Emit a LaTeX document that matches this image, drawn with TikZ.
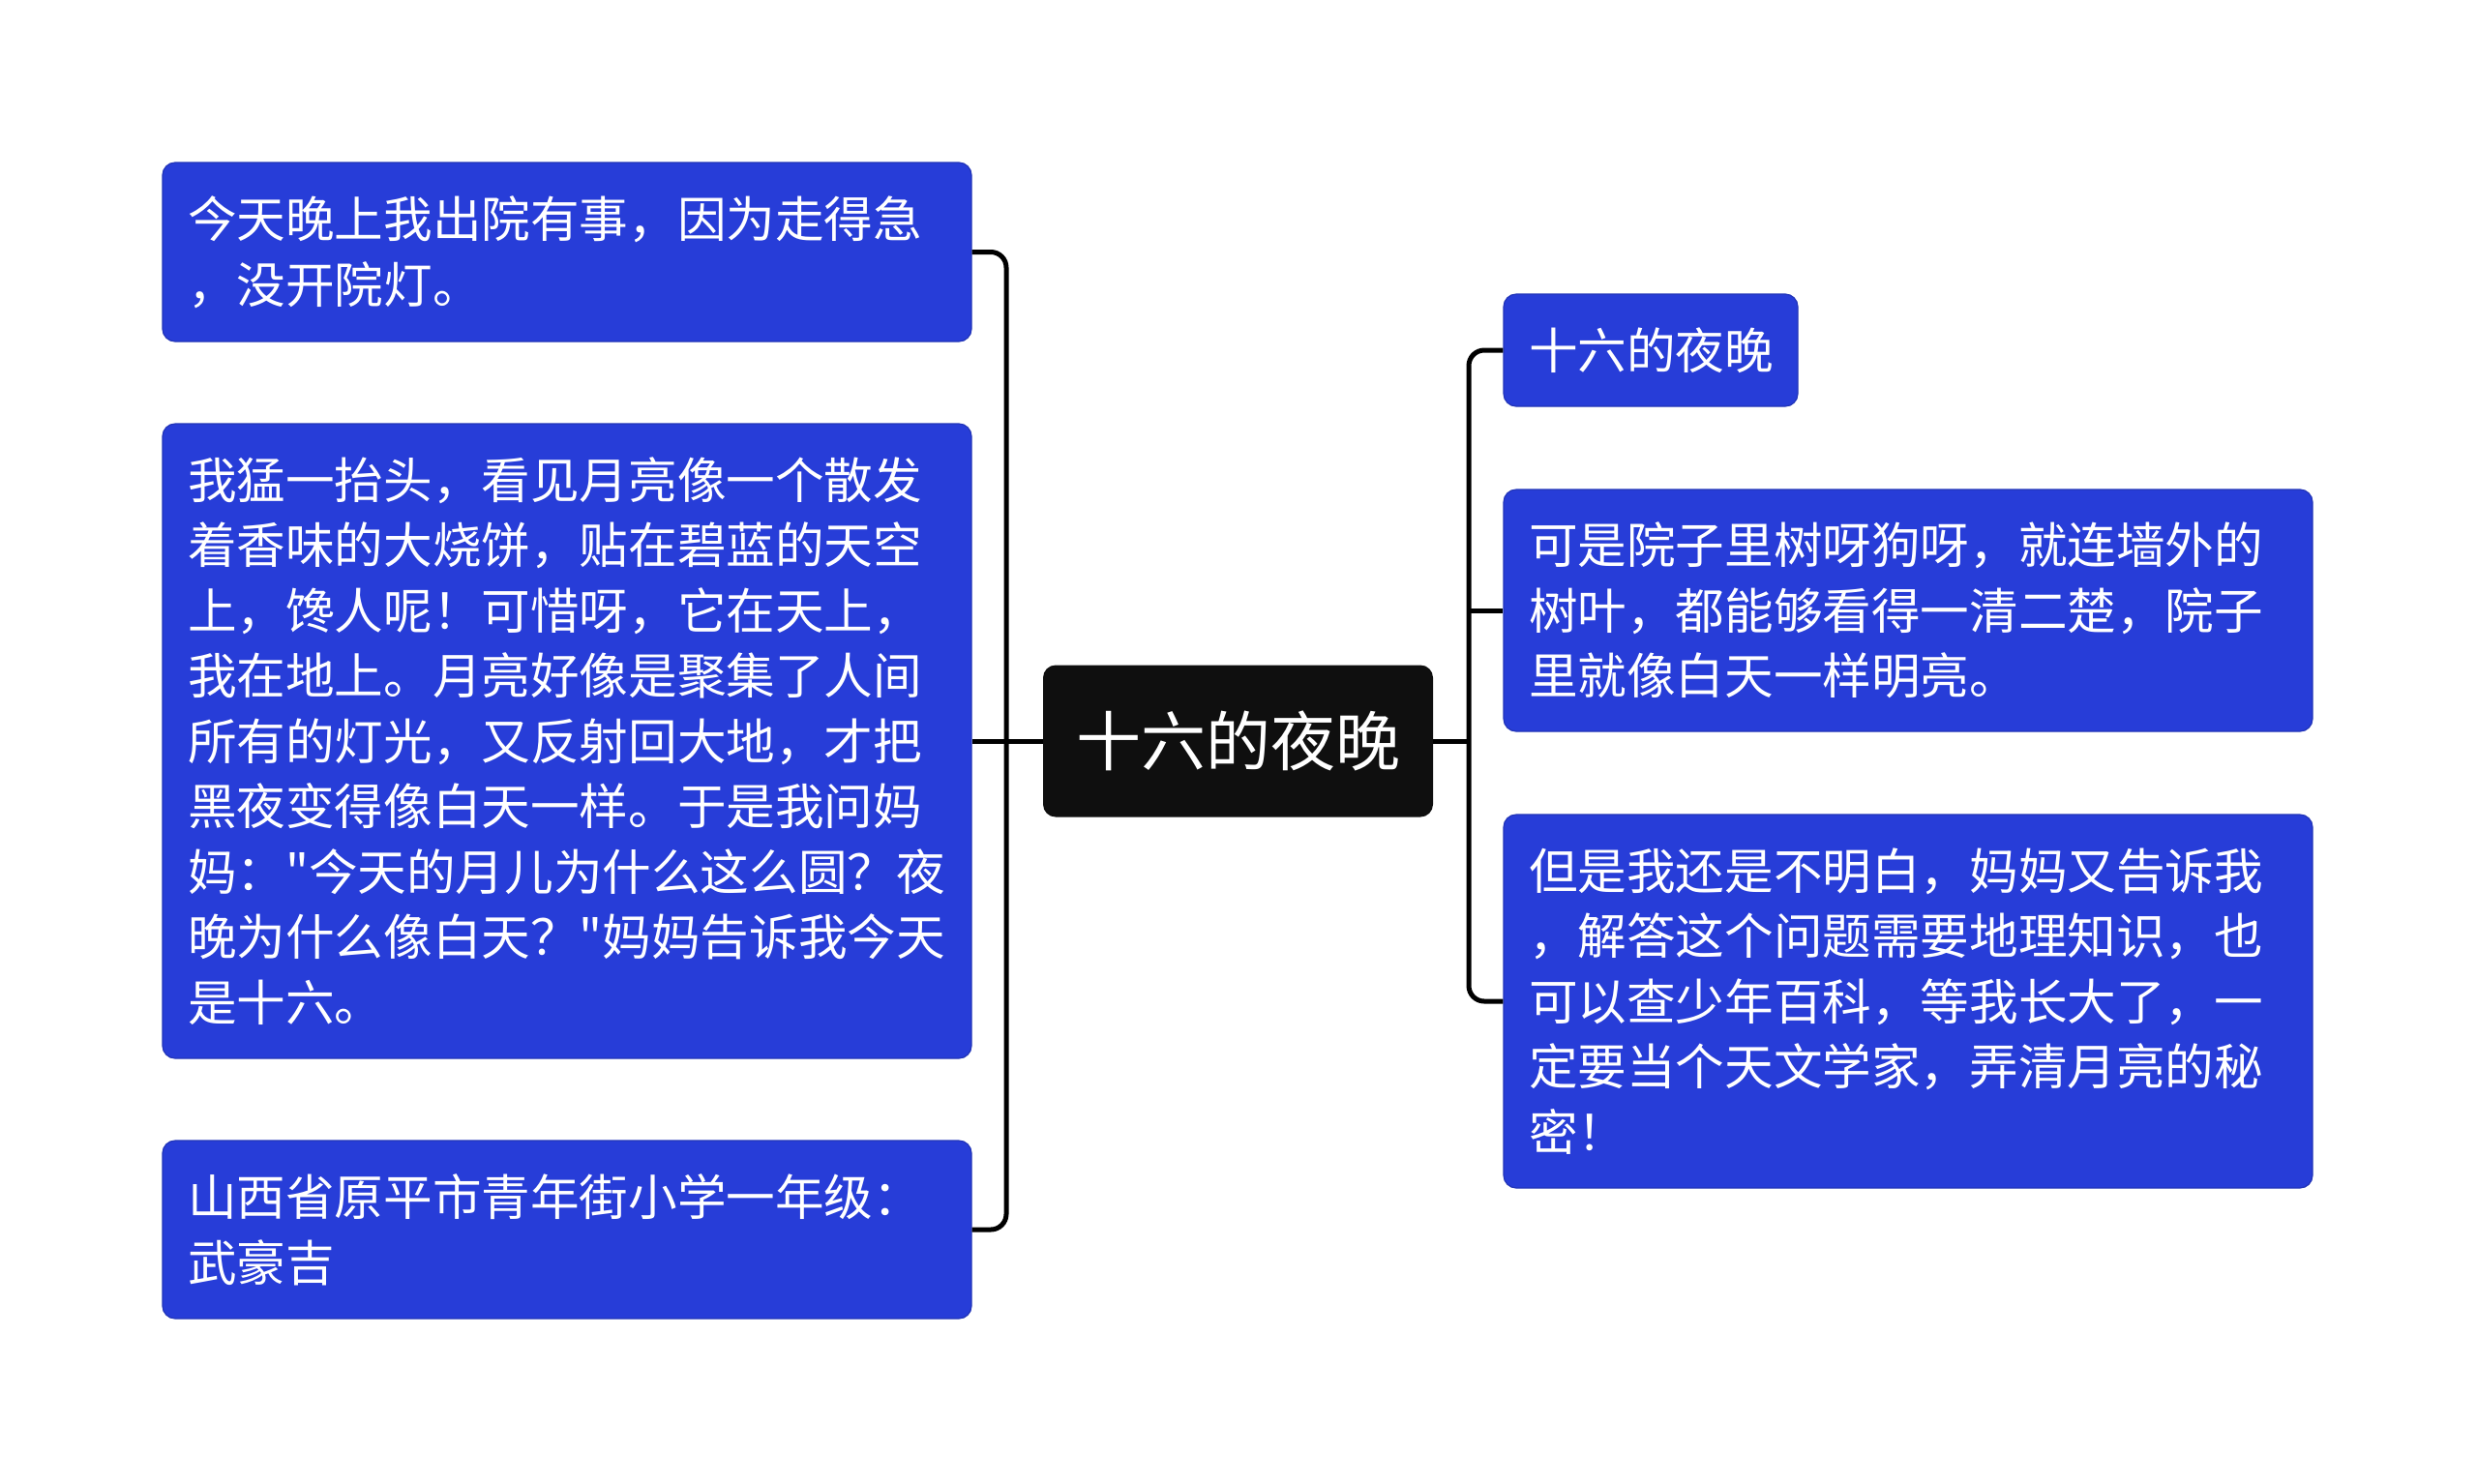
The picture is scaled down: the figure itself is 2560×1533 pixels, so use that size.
\documentclass[tikz,border=0pt]{standalone}
\usepackage{fontspec}
\newfontfamily\cjkfont{Noto Sans CJK SC}
\definecolor{leafblue}{RGB}{39,61,216}
\definecolor{topicblack}{RGB}{15,15,15}

\begin{document}
\begin{tikzpicture}[x = 0.5pt, y = -0.5pt,
	leaf/.style = {draw = leafblue!85!black, line width = 0.6pt, fill = leafblue, rounded corners = 6.5pt, text = white, align = left, inner xsep = 13pt, inner ysep = 0pt, font = \cjkfont\fontsize{25.3pt}{33.75pt}\selectfont},
	topic/.style = {fill = topicblack, rounded corners = 6.5pt, text = white, align = center, minimum width = 201.5pt, minimum height = 78.5pt, font = \cjkfont\fontsize{33.5pt}{40pt}\selectfont},
	link/.style = {draw = black, line width = 2.5pt, rounded corners = 8pt}]

	\useasboundingbox (0, 0) rectangle (2560, 1533); % canvas

	\node[topic] (root) at (1279.5, 766) {十六的夜晚};

	\node[leaf, text width = 392pt, minimum height = 92.5pt] (l1) at (586, 260.5) {今天晚上我出院有事，因为走得急\\，没开院灯。};
	\node[leaf, text width = 392pt, minimum height = 328pt] (l2) at (586, 766) {我猛一抬头，看见月亮像一个散发\\着香味的大烧饼，贴在碧蓝的天空\\上，馋人呢！可惜呀，它在天上，\\我在地上。月亮好像是聚集了人间\\所有的灯光，又反射回大地，才把\\黑夜变得像白天一样。于是我问妈\\妈："今天的月儿为什么这么圆？夜\\晚为什么像白天？"妈妈告诉我今天\\是十六。};
	\node[leaf, text width = 392pt, minimum height = 92pt] (l3) at (586, 1271) {山西省原平市青年街小学一年级：\\武豪吉};

	\node[leaf, text width = 126pt, minimum height = 58pt] (r1) at (1706, 362) {十六的夜晚};
	\node[leaf, text width = 392pt, minimum height = 125pt] (r2) at (1972, 631) {可是院子里树呀狗呀，就连墙外的\\树叶，都能够看得一清二楚，院子\\里就像白天一样明亮。};
	\node[leaf, text width = 392pt, minimum height = 193pt] (r3) at (1972, 1035) {但是我还是不明白，妈妈又告诉我\\，解答这个问题需要地理知识，也\\可以查少年百科，等我长大了，一\\定要当个天文学家，弄清月亮的秘\\密！};

	\coordinate (lj) at (1040, 766);
	\coordinate (rj) at (1518, 766);

	% left side
	\draw[link] (l1.east) -- (l1.east -| lj) -- (l3.east -| lj) -- (l3.east);
	\draw[link] (root.west) -- (l2.east);

	% right side
	\draw[link] (root.east) -- (rj);
	\draw[link] (r1.west) -- (r1.west -| rj) -- (r3.west -| rj) -- (r3.west);
	\draw[link] (r2.west -| rj) -- (r2.west);

\end{tikzpicture}
\end{document}
